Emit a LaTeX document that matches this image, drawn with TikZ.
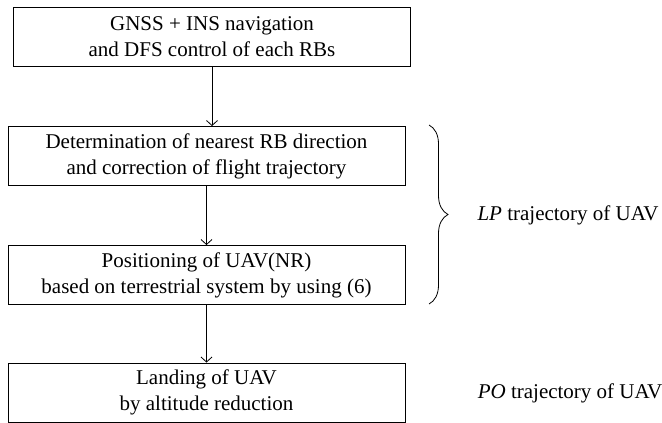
\documentclass[tikz,border=0pt]{standalone}
\usepackage{fontspec}
\setmainfont{Liberation Serif}
\usetikzlibrary{arrows.meta}
\usetikzlibrary{decorations.pathreplacing}
\tikzset{>={Straight Barb[length=5pt,width=11pt]}}

\begin{document}
\begin{tikzpicture}[x=1pt,y=-1pt,
	block/.style={draw,line width=0.9pt,align=center,minimum width=397pt,minimum height=59pt,inner sep=0pt,font=\fontsize{21}{26}\selectfont},
	side/.style={font=\fontsize{21}{26}\selectfont}]
			\useasboundingbox (0,0) rectangle (662,423);
			\node[block] (gnss) at (212,37) {GNSS + INS navigation\\and DFS control of each RBs};
			\node[block] (nearest) at (206.5,156) {Determination of nearest RB direction\\and correction of flight trajectory};
			\node[block] (pos) at (206.5,275) {Positioning of UAV(NR)\\based on terrestrial system by using (6)};
			\node[block] (land) at (206.5,392.5) {Landing of UAV\\by altitude reduction};
			
			\draw[line width=0.8pt,->] (gnss.south)--(gnss.south |- nearest.north);
			\draw[line width=0.8pt,->] (nearest)--(pos);
			\draw[line width=0.8pt,->] (pos)--(land);
			
			\coordinate (bt) at (429,125);
			\coordinate (bb) at (429,304);
			\draw[line width=0.8pt,decorate,decoration={brace,amplitude=19pt}] (bt)--(bb);
			\node[side] (lp) at (568,215) {\textit{LP} trajectory of UAV};
			\node[side] (po) at (570,393) {\textit{PO} trajectory of UAV};
		\end{tikzpicture}
\end{document}
